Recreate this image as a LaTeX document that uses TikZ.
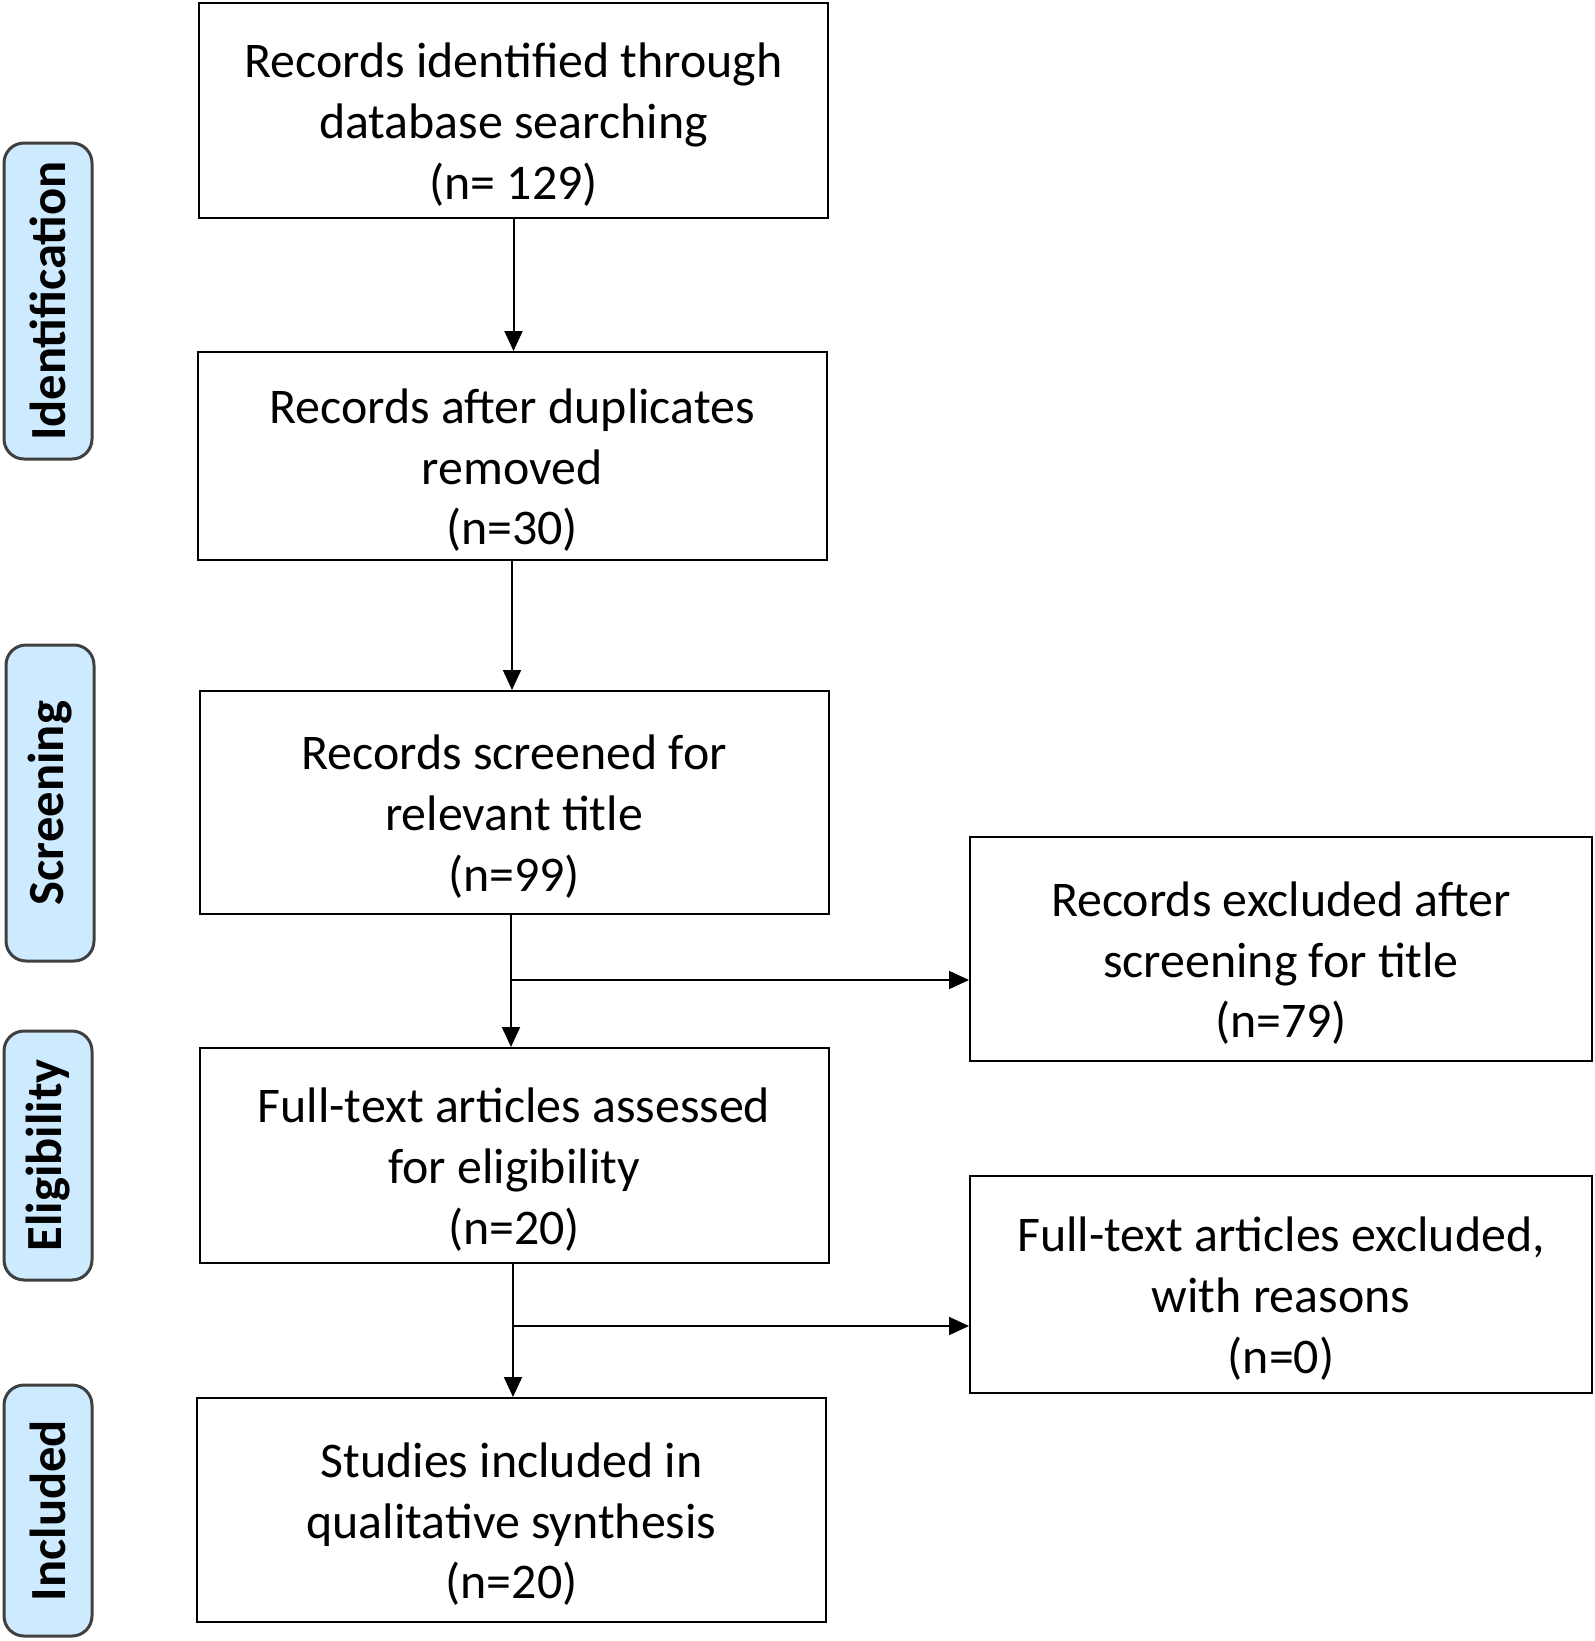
\documentclass[tikz,border=0pt]{standalone}
\usepackage{fontspec}
\setmainfont{Carlito}
\usetikzlibrary{arrows.meta}
\usetikzlibrary{positioning}
\definecolor{phasefill}{RGB}{206,234,255}
\newcommand{\topstrut}{\rule{0pt}{6.3mm}}

\begin{document}
\begin{tikzpicture}[x=0.1mm,y=-0.1mm,
        >={Triangle[length=2mm,width=1.8mm]},
        font=\fontsize{14.2}{17.3}\selectfont,
        box/.style = {draw,line width=0.2mm,fill=white,align=center,
            minimum width=62.9mm,inner sep=0pt},
        rbox/.style = {box,minimum width=62.2mm},
        phase/.style = {draw=black!75,line width=0.3mm,rounded corners=2mm,
            fill=phasefill,rotate=90,minimum width=#1,
            minimum height=8.8mm,inner sep=0pt,font=\fontsize{14.4}{15}\selectfont\bfseries},
        edge/.style = {->,line width=0.2mm}]
    \useasboundingbox (0,0) rectangle (1594,1641);
    % main column
    \node[box,minimum height=21.5mm](ident) at (513.5,110.5)
        {\topstrut Records identified through\\database searching\\(n= 129)};
    \node[box,minimum height=20.8mm](dedup) at (512,456)
        {\topstrut Records after duplicates\\removed\\(n=30)};
    \node[box,minimum height=22.3mm](screen) at (514,802.5)
        {\topstrut Records screened for\\relevant title\\(n=99)};
    \node[box,minimum height=21.5mm](elig) at (514,1155.5)
        {\topstrut Full-text articles assessed\\for eligibility\\(n=20)};
    \node[box,minimum height=22.4mm](incl) at (511.5,1510)
        {\topstrut Studies included in\\qualitative synthesis\\(n=20)};
    % exclusions
    \node[rbox,minimum height=22.4mm](excl) at (1281,949)
        {\topstrut Records excluded after\\screening for title\\(n=79)};
    \node[rbox,minimum height=21.7mm](fullexcl) at (1281,1284.5)
        {\topstrut Full-text articles excluded,\\with reasons\\(n=0)};
    % phase labels
    \node[phase=31.6mm](lident) at (48,301) {Identification};
    \node[phase=31.6mm](lscreen) at (50,803) {Screening};
    \node[phase=24.9mm](lelig) at (48,1155.5) {Eligibility};
    \node[phase=25.1mm](lincl) at (48,1510.5) {Included};
    % arrows
    \coordinate (br1) at (511,980);
    \coordinate (br2) at (513,1326);
    \draw[edge] (ident.south) -- (ident.south |- dedup.north);
    \draw[edge] (dedup.south) -- (dedup.south |- screen.north);
    \draw[edge] (br1 |- screen.south) -- (br1 |- elig.north);
    \draw[edge] (br1) -- (br1 -| excl.west);
    \draw[edge] (br2 |- elig.south) -- (br2 |- incl.north);
    \draw[edge] (br2) -- (br2 -| fullexcl.west);
\end{tikzpicture}
\end{document}
